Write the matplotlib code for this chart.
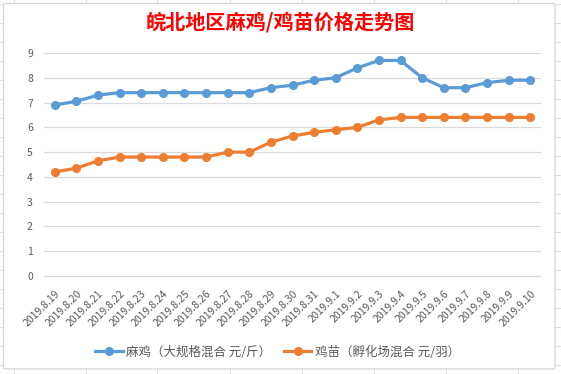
import matplotlib.pyplot as plt
from matplotlib.lines import Line2D
from matplotlib.patches import FancyBboxPatch

plt.rcParams['font.family'] = ['Noto Sans CJK SC', 'DejaVu Sans']

# x categories
dates = ['2019.8.19', '2019.8.20', '2019.8.21', '2019.8.22', '2019.8.23', '2019.8.24',
         '2019.8.25', '2019.8.26', '2019.8.27', '2019.8.28', '2019.8.29', '2019.8.30',
         '2019.8.31', '2019.9.1', '2019.9.2', '2019.9.3', '2019.9.4', '2019.9.5',
         '2019.9.6', '2019.9.7', '2019.9.8', '2019.9.9', '2019.9.10']

# 麻鸡 price (yuan / jin)
maji = [6.9, 7.05, 7.3, 7.4, 7.4, 7.4, 7.4, 7.4, 7.4, 7.4, 7.6, 7.7,
        7.9, 8.0, 8.4, 8.7, 8.7, 8.0, 7.6, 7.6, 7.8, 7.9, 7.9]

# 鸡苗 price (yuan / chick)
jimiao = [4.2, 4.35, 4.65, 4.8, 4.8, 4.8, 4.8, 4.8, 5.0, 5.0, 5.4, 5.65,
          5.8, 5.9, 6.0, 6.3, 6.4, 6.4, 6.4, 6.4, 6.4, 6.4, 6.4]

W, H = 561, 374
fig = plt.figure(figsize=(W / 100, H / 100), dpi=100)

# spreadsheet cell lines behind the chart
for px in [14, 86, 157, 230, 302, 374, 446, 518]:
    fig.add_artist(Line2D([px / W, px / W], [0, 1], color='#e1e1e1', lw=0.8, zorder=-3))
for py in range(4, H, 19):
    fig.add_artist(Line2D([0, 1], [1 - py / H, 1 - py / H], color='#e1e1e1', lw=0.8, zorder=-3))

# chart area box
box = FancyBboxPatch((3.5 / W, 5 / H), (555 - 3.5) / W, (369 - 3.5) / H,
                     boxstyle='round,pad=0,rounding_size=0.004',
                     transform=fig.transFigure, facecolor='white',
                     edgecolor='#d0d0d0', lw=0.8, zorder=-2)
fig.add_artist(box)

ax = fig.add_axes([44 / W, 98 / H, 497 / W, 223 / H])
ax.set_facecolor('none')

x = list(range(len(dates)))
ax.plot(x, maji, color='#5b9bd5', lw=2.3, marker='o', ms=5.5,
        label='麻鸡（大规格混合 元/斤）')
ax.plot(x, jimiao, color='#ed7d31', lw=2.3, marker='o', ms=5.5,
        label='鸡苗（孵化场混合 元/羽）')

ax.set_xlim(-0.5, len(dates) - 0.5)
ax.set_ylim(0, 9)
ax.set_yticks(range(0, 10))
ax.grid(axis='y', color='#d9d9d9', lw=0.9)
ax.set_axisbelow(True)
for s in ['top', 'right', 'left']:
    ax.spines[s].set_visible(False)
ax.spines['bottom'].set_color('#d9d9d9')
ax.tick_params(length=0, colors='#595959', labelsize=7.5)
ax.tick_params(axis='y', pad=8)
ax.set_xticks(x)
ax.set_xticklabels(dates, rotation=45, ha='right', va='top', rotation_mode='anchor')
ax.tick_params(axis='x', pad=9)

fig.text(0.5, 1 - 22 / H, '皖北地区麻鸡/鸡苗价格走势图', color='#ff0000',
         fontsize=14.5, fontweight='bold', ha='center', va='center')

leg = fig.legend(loc='center', bbox_to_anchor=(0.495, 1 - 352 / H), ncol=2,
                 frameon=False, fontsize=9, handlelength=2.2, columnspacing=1.0,
                 handletextpad=0.3, labelcolor='#595959')

fig.savefig('out.png', dpi=100)
